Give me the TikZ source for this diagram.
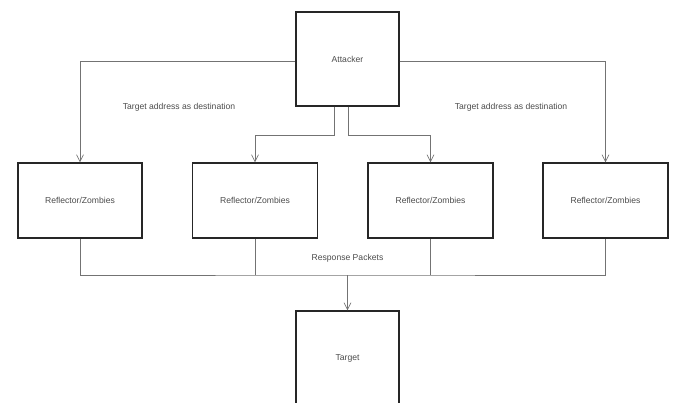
\documentclass[tikz,border=0pt]{standalone}
\usepackage{fontspec}
\setmainfont{Liberation Sans}
\usetikzlibrary{arrows.meta}
\tikzset{
  box/.style={rectangle,draw=black!85,line width=1.1pt,fill=white,font=\fontsize{8.6}{10}\selectfont,text=black!70},
  link/.style={draw=black!55,line width=0.7pt},
  lbl/.style={font=\fontsize{8.6}{10}\selectfont,text=black!70}
}
\begin{document}
\begin{tikzpicture}[x=1pt,y=-1pt,>={Straight Barb[length=7pt,width=7pt]}]
\useasboundingbox (0,0) rectangle (675,402);
\clip (0,0) rectangle (675,402);
\node[box, minimum width=103pt, minimum height=94pt] (attacker) at (347.5,59) {Attacker};
\node[box, minimum width=124pt, minimum height=75pt] (refl1) at (80,200.5) {Reflector/Zombies};
\node[box, minimum width=125pt, minimum height=75pt] (refl2) at (255,200.5) {Reflector/Zombies};
\node[box, minimum width=125pt, minimum height=75pt] (refl3) at (430.5,200.5) {Reflector/Zombies};
\node[box, minimum width=125pt, minimum height=75pt] (refl4) at (605.5,200.5) {Reflector/Zombies};
\node[box, minimum width=103pt, minimum height=94pt] (target) at (347.5,358) {Target};
\node[lbl] (lblleft) at (179,107) {Target address as destination};
\node[lbl] (lblright) at (511,107) {Target address as destination};
\node[lbl] (lblresp) at (347.5,258) {Response Packets};
\coordinate (bus) at (347.5,275);
    % attacker to reflectors
    \draw[link,->] ([yshift=-2pt]attacker.west) -| (refl1.north);
    \draw[link,->] ([yshift=-2pt]attacker.east) -| (refl4.north);
    \draw[link,->] ([xshift=-13.5pt]attacker.south) -- ++(0,29) -| (refl2.north);
    \draw[link,->] ([xshift=0.5pt]attacker.south) -- ++(0,29) -| (refl3.north);
    % responses to target
    \draw[link] (refl1.south) |- (bus) -| (refl4.south);
    \draw[link] (refl2.south) -- (refl2.south |- bus);
    \draw[link] (refl3.south) -- (refl3.south |- bus);
    \draw[link,->] (bus) -- (target.north);
\end{tikzpicture}
\end{document}
